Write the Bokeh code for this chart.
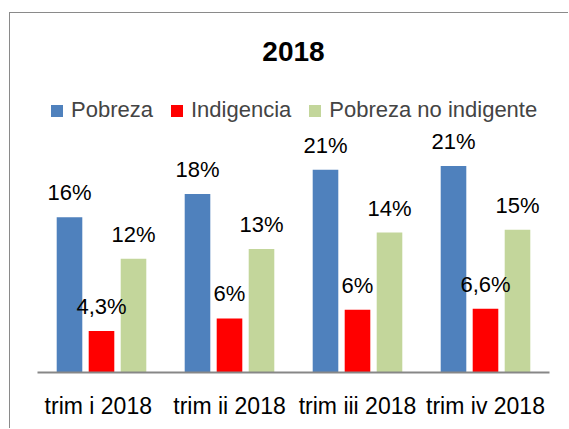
from bokeh.plotting import figure
from bokeh.models import ColumnDataSource, FactorRange, Range1d, LabelSet, Legend, LegendItem
from bokeh.transform import dodge
from bokeh.core.properties import value
from bokeh.embed import file_html
from bokeh.resources import INLINE

categories = ["trim i  2018", "trim ii 2018", "trim iii 2018", "trim iv 2018"]
pobreza = [16.1, 18.5, 21.0, 21.4]
indigencia = [4.3, 5.6, 6.5, 6.6]
no_indigente = [11.8, 12.8, 14.5, 14.8]
pobreza_lbl = ["16%", "18%", "21%", "21%"]
indigencia_lbl = ["4,3%", "6%", "6%", "6,6%"]
no_indigente_lbl = ["12%", "13%", "14%", "15%"]
series_names = ["Pobreza", "Indigencia", "Pobreza no indigente"]
colors = ["#4F81BD", "#FF0000", "#C3D69B"]

src = ColumnDataSource(dict(cat=categories, pob=pobreza, ind=indigencia, noi=no_indigente,
                            pob_l=pobreza_lbl, ind_l=indigencia_lbl, noi_l=no_indigente_lbl))

FONT = "Liberation Sans"

p = figure(width=559, height=416, x_range=FactorRange(*categories, range_padding=0),
           y_range=Range1d(0, 32.02), output_backend="svg", toolbar_location=None,
           y_axis_location=None, min_border_left=27, min_border_right=20,
           min_border_top=50, min_border_bottom=57)
p.styles = {"margin-left": "9px", "margin-top": "12px",
            "border-left": "1px solid #8a8a8a", "border-top": "1px solid #8a8a8a"}
p.outline_line_color = None
p.xgrid.grid_line_color = None
p.ygrid.grid_line_color = None

p.title.text = "2018"
p.title.align = "center"
p.title.text_font = FONT
p.title.text_font_size = "28px"
p.title.text_font_style = "bold"
p.title.text_color = "#000000"
p.title.standoff = 5

keys = ["pob", "ind", "noi"]
offs = [-0.25, 0.0, 0.25]
renderers = []
for k, o, c in zip(keys, offs, colors):
    r = p.vbar(x=dodge("cat", o, range=p.x_range), top=k, width=0.2, source=src,
               fill_color=c, line_color=None)
    renderers.append(r)
    lbl = LabelSet(x=dodge("cat", o, range=p.x_range), y=k, text=k + "_l", source=src,
                   text_align="center", text_baseline="alphabetic", y_offset=17,
                   text_font=value(FONT), text_font_size=value("22px"),
                   text_color=value("#000000"))
    p.add_layout(lbl)

legend = Legend(items=[LegendItem(label=n, renderers=[r]) for n, r in zip(series_names, renderers)],
                orientation="horizontal", location=(12, 249), padding=0, spacing=16,
                glyph_width=15, glyph_height=15, label_standoff=7,
                label_text_font=FONT, label_text_font_size="22px",
                border_line_color=None, background_fill_alpha=0)
p.add_layout(legend)

ax = p.xaxis[0]
ax.axis_line_color = "#878787"
ax.axis_line_width = 2
ax.major_tick_line_color = None
ax.minor_tick_line_color = None
ax.major_tick_out = 0
ax.major_label_standoff = 20
ax.major_label_text_font = FONT
ax.major_label_text_font_size = "23px"
ax.major_label_text_color = "#000000"

open("out.html", "w").write(file_html(p, INLINE))
